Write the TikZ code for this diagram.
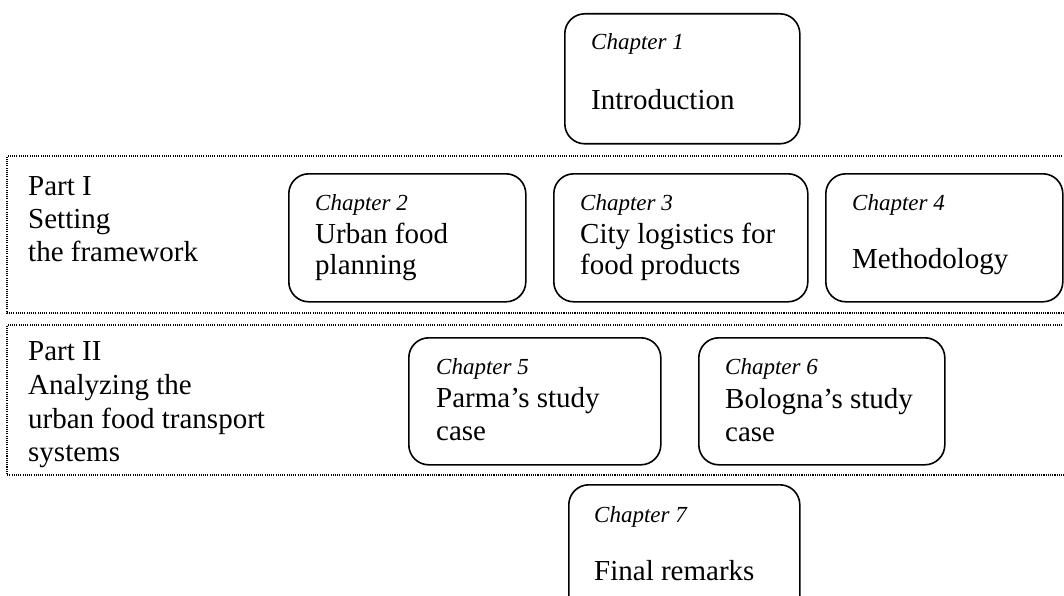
\documentclass[tikz,border=0pt]{standalone}
\usepackage{fontspec}
\setmainfont{Liberation Serif}
\begin{document}
\begin{tikzpicture}[x=1pt,y=-1pt,
  chbox/.style={draw=black, line width=1.6pt, rounded corners=20pt, inner sep=0pt, anchor=north west},
  partframe/.style={draw=black, line width=1.1pt, dash pattern=on 1.1pt off 1.1pt},
  chlabel/.style={anchor=base west, inner sep=0pt, font=\fontsize{23}{27}\selectfont\itshape},
  chtitle/.style={anchor=base west, inner sep=0pt, font=\fontsize{29}{34}\selectfont},
  parttext/.style={anchor=base west, inner sep=0pt, font=\fontsize{29}{34}\selectfont}]
\useasboundingbox (0,0) rectangle (1064,596);
\clip (0,0) rectangle (1064,596);

% dotted part frames, open to the right
\coordinate (p1ne) at (1080,156); \coordinate (p1nw) at (7,156);
\coordinate (p1sw) at (7,313);    \coordinate (p1se) at (1080,313);
\draw[partframe] (p1ne) -- (p1nw) -- (p1sw) -- (p1se);
\coordinate (p2ne) at (1080,325); \coordinate (p2nw) at (7,325);
\coordinate (p2sw) at (7,475);    \coordinate (p2se) at (1080,475);
\draw[partframe] (p2ne) -- (p2nw) -- (p2sw) -- (p2se);

% chapter boxes
\node[chbox, minimum width=235pt, minimum height=130pt] (c1) at (564,13) {};
\node[chbox, minimum width=237pt, minimum height=128pt] (c2) at (288,173) {};
\node[chbox, minimum width=254pt, minimum height=128pt] (c3) at (553,173) {};
\node[chbox, minimum width=237pt, minimum height=128pt] (c4) at (825,173) {};
\node[chbox, minimum width=252pt, minimum height=127pt] (c5) at (408,337) {};
\node[chbox, minimum width=246pt, minimum height=127pt] (c6) at (698,337) {};
\node[chbox, minimum width=231pt, minimum height=140pt] (c7) at (568,484) {};

% part headings
\node[parttext] (p1a) at (28,195) {Part I};
\node[parttext] (p1b) at (28,228) {Setting};
\node[parttext] (p1c) at (28,261) {the framework};
\node[parttext] (p2a) at (28,360) {Part II};
\node[parttext] (p2b) at (28,394) {Analyzing the};
\node[parttext] (p2c) at (28,428) {urban food transport};
\node[parttext] (p2d) at (28,461) {systems};

% chapter texts
\node[chlabel] (t1a) at (591,50) {Chapter 1};
\node[chtitle] (t1b) at (591,110) {Introduction};

\node[chlabel] (t2a) at (315,210) {Chapter 2};
\node[chtitle] (t2b) at (315,243) {Urban food};
\node[chtitle] (t2c) at (315,274) {planning};

\node[chlabel] (t3a) at (580,210) {Chapter 3};
\node[chtitle] (t3b) at (580,243) {City logistics for};
\node[chtitle] (t3c) at (580,274) {food products};

\node[chlabel] (t4a) at (852,210) {Chapter 4};
\node[chtitle] (t4b) at (852,268) {Methodology};

\node[chlabel] (t5a) at (436,374) {Chapter 5};
\node[chtitle] (t5b) at (436,407) {Parma’s study};
\node[chtitle] (t5c) at (436,440) {case};

\node[chlabel] (t6a) at (725,374) {Chapter 6};
\node[chtitle] (t6b) at (725,408) {Bologna’s study};
\node[chtitle] (t6c) at (725,441) {case};

\node[chlabel] (t7a) at (594,522) {Chapter 7};
\node[chtitle] (t7b) at (594,580) {Final remarks};
\end{tikzpicture}
\end{document}
